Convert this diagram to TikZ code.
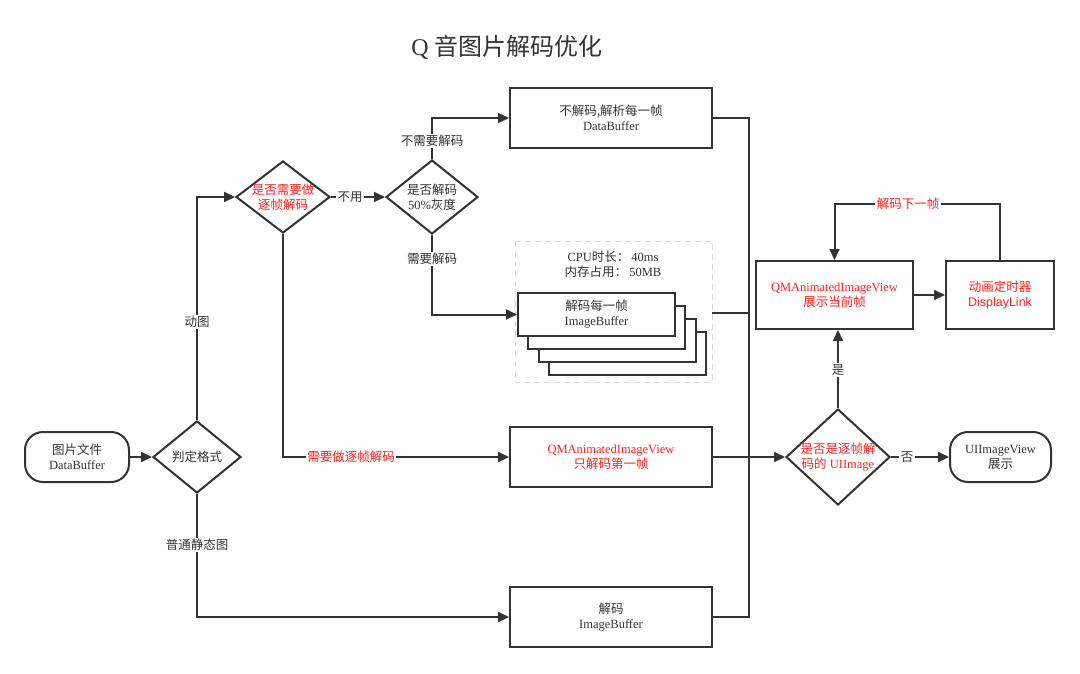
\documentclass[tikz,border=0pt]{standalone}
\usepackage{fontspec}
\setmainfont{Liberation Serif}
\newfontfamily\cjk{Noto Sans CJK SC}
\newfontfamily\sansf{Liberation Sans}
\newcommand\zh[1]{{\cjk #1}}
\usetikzlibrary{shapes.geometric,arrows.meta}
\definecolor{ln}{HTML}{333333}
\definecolor{rd}{HTML}{FF2020}
\begin{document}
\begin{tikzpicture}[x=1pt,y=-1pt,
  font=\fontsize{12.5}{15}\selectfont,
  every node/.style={align=center,text=ln},
  box/.style={draw=ln,line width=2pt,minimum width=202pt,minimum height=60pt,inner sep=0pt},
  term/.style={draw=ln,line width=2pt,rounded corners=18pt,minimum width=104pt,minimum height=50pt,inner sep=0pt},
  dia/.style={draw=ln,line width=2pt,diamond,inner sep=0pt,aspect=1.25},
  con/.style={draw=ln,line width=2pt},
  arr/.style={con,-{Triangle[length=11pt,width=10pt]}},
  lbl/.style={fill=white,inner sep=1.5pt}]
\useasboundingbox (0,0) rectangle (1080,673);
\node (title) at (507,47) {\fontsize{24}{28}\selectfont Q \zh{音图片解码优化}};
\node[term] (start) at (77,457) {\zh{图片文件}\\DataBuffer};
\node[dia,minimum width=88pt,minimum height=72pt,aspect=1.22] (fmt) at (197,457) {};
\node at (fmt) {\zh{判定格式}};
\node[dia,minimum width=94pt,minimum height=72pt] (zz) at (283,197) {};
\node[text=rd] at (zz) {\zh{是否需要做}\\\zh{逐帧解码}};
\node[dia,minimum width=92pt,minimum height=74pt] (gray) at (432,197) {};
\node at (gray) {\zh{是否解码}\\50\%\zh{灰度}};
\node[box] (nodec) at (611,118) {\zh{不解码,解析每一帧}\\DataBuffer};
\draw[draw=black!15,line width=1pt,dash pattern=on 6pt off 4pt] (515,241) rectangle (712,382);
\node at (613,264) {CPU\zh{时长：}\,40ms\\\zh{内存占用：}\,50MB};
\foreach \i in {3,2,1} {
  \draw[ln,fill=white,line width=2pt] ({518+10.3*\i},{293+13*\i}) rectangle ++(157,43);
}
\node[draw=ln,fill=white,line width=2pt,minimum width=157pt,minimum height=43pt,inner sep=0pt] (frames) at (596.5,314.5) {\zh{解码每一帧}\\ImageBuffer};
\coordinate (dashr) at (712,313);
\node[box] (first) at (611,457) {\textcolor{rd}{QMAnimatedImageView}\\\textcolor{rd}{\zh{只解码第一帧}}};
\node[box] (dec) at (611,617) {\zh{解码}\\ImageBuffer};
\node[dia,minimum width=104pt,minimum height=96pt,aspect=1.08] (isz) at (838,457) {};
\node[text=rd] at (isz) {\zh{是否是逐帧解}\\\zh{码的} UIImage};
\node[draw=ln,line width=2pt,minimum width=157pt,minimum height=68pt,inner sep=0pt] (show) at (834.5,295) {\textcolor{rd}{QMAnimatedImageView}\\\textcolor{rd}{\zh{展示当前帧}}};
\node[draw=ln,line width=2pt,minimum width=108pt,minimum height=68pt,inner sep=0pt] (timer) at (1000,295) {\textcolor{rd}{\zh{动画定时器}}\\\textcolor{rd}{\sansf DisplayLink}};
\node[term,minimum width=101pt] (uiv) at (1000.5,457) {UIImageView\\\zh{展示}};
\coordinate (bt) at (749,118);
\coordinate (bb) at (749,617);
% connectors
\draw[arr] (start) -- (fmt);
\draw[arr] (fmt.north) |- (zz.west);
\node[lbl] at (197,322) {\zh{动图}};
\draw[arr] (fmt.south) |- (dec.west);
\node[lbl] at (197,545) {\zh{普通静态图}};
\draw[arr] (zz.south) |- (first.west);
\node[lbl,text=rd] at (351,457) {\zh{需要做逐帧解码}};
\draw[arr] (zz.east) -- (gray.west);
\node[lbl] at (350,197) {\zh{不用}};
\draw[arr] (gray.north) |- (nodec.west);
\node[lbl] at (432,141) {\zh{不需要解码}};
\draw[arr] (gray.south) |- (frames.west);
\node[lbl] at (432,259) {\zh{需要解码}};
\draw[con] (nodec.east) -- (bt) -- (bb) -- (dec.east);
\draw[con] (dashr) -- (749,313);
\draw[arr] (first.east) -- (isz.west);
\draw[arr] (isz.north) -- (isz.north |- show.south);
\node[lbl] at (838,370) {\zh{是}};
\draw[arr] (isz.east) -- (uiv.west);
\node[lbl] at (907,457) {\zh{否}};
\draw[arr] (show.east) -- (timer.west);
\coordinate (lp) at (1000,204);
\draw[arr] (timer.north) -- (lp) -| (show.north);
\node[lbl,text=rd] at (908,204) {\zh{解码下一帧}};
\end{tikzpicture}
\end{document}
